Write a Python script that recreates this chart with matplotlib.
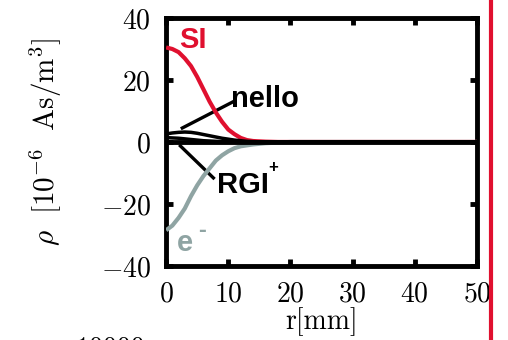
import numpy as np
import matplotlib
matplotlib.use('Agg')
import matplotlib.pyplot as plt
from matplotlib.lines import Line2D

plt.rcParams['font.family'] = 'serif'
plt.rcParams['font.serif'] = ['cmr10']
plt.rcParams['mathtext.fontset'] = 'cm'
plt.rcParams['axes.formatter.use_mathtext'] = True

# radius [mm] and charge densities [1e-6 As/m^3]
r = [0, 1, 2, 3, 4, 5, 6, 7, 8, 9, 10, 11, 12, 13, 14, 16, 18, 20, 50]
si = [30.5, 30, 29, 27, 24.5, 21, 17, 13, 9.5, 6.5, 4, 2.5, 1.3, 0.6, 0.3, 0.1, 0, 0, 0]
el = [-28.5, -27, -24.5, -21.5, -17.5, -14, -11, -8.5, -6, -4.3, -3, -2, -1.4, -1.1, -0.8, -0.4, -0.2, 0, 0]
nello = [2.6, 2.9, 3.1, 3.2, 3.1, 2.8, 2.4, 2.0, 1.6, 1.2, 0.9, 0.6, 0.4, 0.2, 0.1, 0, 0, 0, 0]
rgi = [1.4, 1.3, 1.2, 1.0, 0.8, 0.6, 0.4, 0.3, 0.2, 0.1, 0, 0, 0, 0, 0, 0, 0, 0, 0]

red = '#e0102f'
grey = '#8fa4a3'

fig = plt.figure(figsize=(5.08, 3.40), dpi=100)
ax = fig.add_axes([0.327, 0.218, 0.612, 0.729])

ax.plot(r, si, color=red, lw=3, zorder=3, solid_capstyle='butt')
ax.plot(r, el, color=grey, lw=3, zorder=3, solid_capstyle='butt')
ax.plot(r, rgi, color='black', lw=2.5, zorder=4)
ax.plot(r, nello, color='black', lw=2.5, zorder=4)
ax.axhline(0, color='black', lw=3.5, zorder=5)

# label pointers
ax.plot([2.6, 10.8], [4.5, 13], color='black', lw=2.4, zorder=2)
ax.plot([2.3, 7.6], [-1.3, -11.6], color='black', lw=2.4, zorder=2)

lab = dict(family='Liberation Sans', weight='bold', fontsize=21)
ax.text(2.1, 33, 'SI', color=red, va='center', ha='left', **lab)
ax.text(10.5, 13.8, 'nello', color='black', va='center', ha='left', **lab)
ax.text(8.2, -14, 'RGI', color='black', va='center', ha='left', **lab)
ax.text(16.4, -8.3, '+', color='black', va='center', ha='left',
        family='Liberation Sans', weight='bold', fontsize=12)
ax.text(1.8, -32.5, 'e', color=grey, va='center', ha='left', **lab)
ax.text(5.2, -28.5, '-', color=grey, va='center', ha='left',
        family='Liberation Sans', weight='bold', fontsize=17)

ax.set_xlim(0, 50)
ax.set_ylim(-40, 40)
ax.set_xticks([0, 10, 20, 30, 40, 50])
ax.set_yticks([-40, -20, 0, 20, 40])
ax.tick_params(direction='in', length=5, width=3.5, labelsize=20,
               top=True, right=True)
ax.tick_params(axis='x', pad=11)
ax.tick_params(axis='y', pad=11)
for s in ax.spines.values():
    s.set_linewidth(3.5)

ax.set_xlabel('r[mm]', fontsize=20, labelpad=0)
ax.set_ylabel(r'$\rho\ \ [10^{-6}\ \ \mathrm{As/m}^{3}]$', fontsize=21, labelpad=26)

fig.add_artist(Line2D([0.967, 0.967], [0, 1], color=red, lw=3, transform=fig.transFigure))
fig.text(0.148, 0.012, '10000', fontsize=20, va='top', ha='left')

fig.savefig('out.png', dpi=100)
